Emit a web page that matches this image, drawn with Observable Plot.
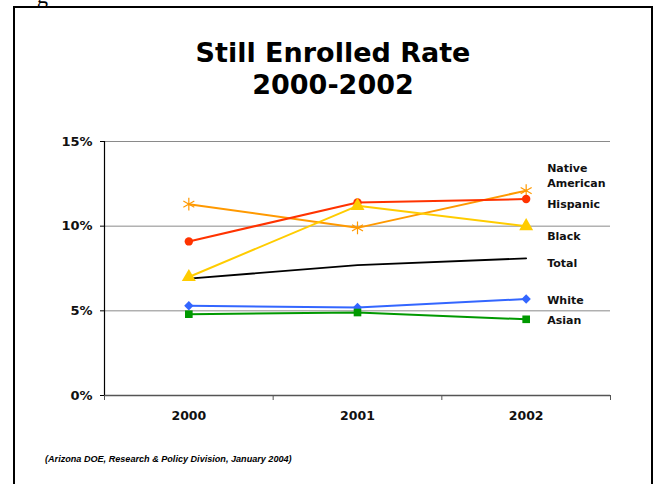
<!DOCTYPE html>
<html>
<head>
<meta charset="utf-8">
<script src="https://cdn.jsdelivr.net/npm/d3@7"></script>
<script src="https://cdn.jsdelivr.net/npm/@observablehq/plot@0.6"></script>
<style>
  html, body { margin: 0; padding: 0; background: #fff; }
  #page { position: relative; width: 656px; height: 484px; overflow: hidden; background: #fff; }
  #page svg { position: absolute; left: 0; top: 0; }
  #border { position: absolute; left: 13px; top: 6px; width: 640px; height: 520px; border: 2px solid #000; box-sizing: border-box; }
  #clip-g { position: absolute; left: 37px; top: -17px; font: 22px "Liberation Serif", serif; line-height: 26px; color: #000; }
  #title { position: absolute; left: 0; width: 666px; top: 37px; text-align: center; font: bold 27px "DejaVu Sans", sans-serif; line-height: 31.5px; color: #000; }
  #source { position: absolute; left: 45px; top: 454px; font: italic bold 9.1px "Liberation Sans", sans-serif; color: #000; white-space: nowrap; }
</style>
</head>
<body>
<div id="page">
  <div id="clip-g">g</div>
  <div id="title">Still Enrolled Rate<br>2000-2002</div>
  <div id="source">(Arizona DOE, Research &amp; Policy Division, January 2004)</div>
</div>
<script>
// ---- data ----
const years = [2000, 2001, 2002];
const seriesNames = ["Native American", "Hispanic", "Black", "Total", "White", "Asian"];
const nativeAmerican = [11.3, 9.9, 12.1];
const hispanic = [9.1, 11.4, 11.6];
const black = [7.0, 11.2, 10.0];
const total = [6.9, 7.7, 8.1];
const white = [5.3, 5.2, 5.7];
const asian = [4.8, 4.9, 4.5];
const yTicks = [0, 5, 10, 15];
const gridTicks = [5, 10, 15];
const labelTexts = ["Native\nAmerican", "Hispanic", "Black", "Total", "White", "Asian"];

// ---- styles ----
const colors = ["#FF9900", "#FF3300", "#FFCC00", "#000000", "#3366FF", "#009900"];
const symbols = ["asterisk", "circle", "triangle", null, "diamond2", "square"];
const symbolR = [6, 4.2, 5.2, 0, 4.2, 4.3];
const labelDy = [-16, 4, 9, 4, 0, 0];

const valuesBySeries = [nativeAmerican, hispanic, black, total, white, asian];
const rows = [];
seriesNames.forEach((s, i) => years.forEach((yr, j) => rows.push({series: s, year: yr, value: valuesBySeries[i][j], idx: i})));
const lastRows = seriesNames.map((s, i) => ({series: s, year: years[years.length - 1], value: valuesBySeries[i][years.length - 1], label: labelTexts[i], dy: labelDy[i]}));

const halfStep = 0.5;
const xDomain = [years[0] - halfStep, years[years.length - 1] + halfStep];
const bandEdges = [...years.map(y => y - halfStep), years[years.length - 1] + halfStep];

const marks = [
  Plot.ruleY(gridTicks, {stroke: "#8a8a8a", strokeWidth: 1}),
  Plot.ruleY([0], {stroke: "#555", strokeWidth: 1.3}),
  Plot.ruleX([xDomain[0]], {y1: yTicks[0], y2: yTicks[yTicks.length - 1], stroke: "#000", strokeWidth: 1.2}),
  Plot.axisY({ticks: yTicks, label: null, tickFormat: d => d + "%", tickSize: 4, tickPadding: 8, fontSize: 13, fontWeight: "bold", fontFamily: "DejaVu Sans", stroke: "#000", fill: "#111"}),
  Plot.axisX({ticks: bandEdges, label: null, tickFormat: () => "", tickSize: 5, stroke: "#555"}),
  Plot.axisX({ticks: years, label: null, tickFormat: d => String(d), tickSize: 0, tickPadding: 16, fontSize: 12.5, fontWeight: "bold", fontFamily: "DejaVu Sans", fill: "#111"})
];

seriesNames.forEach((s, i) => {
  const data = rows.filter(r => r.series === s);
  marks.push(Plot.line(data, {x: "year", y: "value", stroke: colors[i], strokeWidth: s === "Total" ? 1.8 : 2}));
});
seriesNames.forEach((s, i) => {
  if (!symbols[i]) return;
  const data = rows.filter(r => r.series === s);
  const isStroke = symbols[i] === "asterisk";
  marks.push(Plot.dot(data, {
    x: "year", y: "value", symbol: () => symbols[i], r: symbolR[i],
    fill: isStroke ? "none" : colors[i], stroke: isStroke ? colors[i] : "none", strokeWidth: isStroke ? 1.2 : 0
  }));
});
lastRows.forEach((d) => {
  marks.push(Plot.text([d], {x: "year", y: "value", text: "label", dx: 21, dy: d.dy, textAnchor: "start", lineHeight: 1.36, fontSize: 11, fontWeight: "bold", fontFamily: "DejaVu Sans", fill: "#111"}));
});

const chart = Plot.plot({
  width: 656,
  height: 484,
  marginTop: 141,
  marginLeft: 104,
  marginRight: 46,
  marginBottom: 89,
  x: {type: "linear", domain: xDomain, axis: null},
  y: {domain: [0, 15], axis: null},
  symbol: {type: "identity"},
  style: {background: "transparent", fontFamily: "DejaVu Sans", overflow: "visible"},
  marks
});
const page = document.getElementById("page");
page.insertBefore(chart, page.firstChild);
const border = document.createElement("div");
border.id = "border";
page.appendChild(border);
</script>
</body>
</html>
